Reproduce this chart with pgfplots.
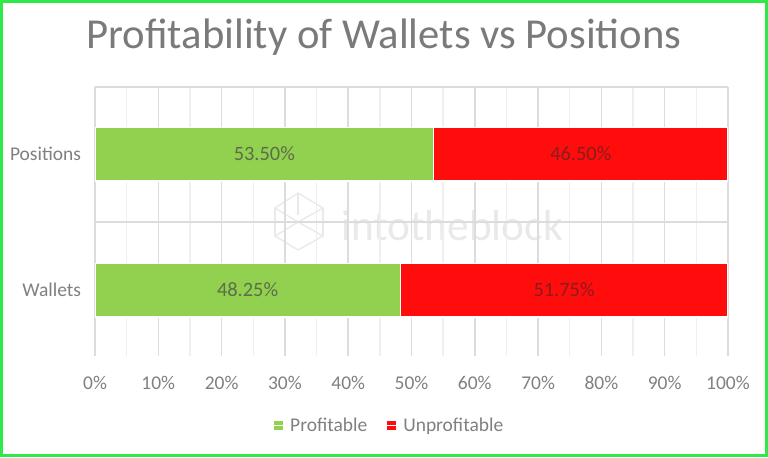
\documentclass[border=0pt]{standalone}
\usepackage{pgfplots}
\pgfplotsset{compat=1.18}
\usepackage{fontspec}
\setmainfont{Carlito}
\definecolor{gborder}{HTML}{2FE84A}
\definecolor{gbar}{HTML}{92D050}
\definecolor{rbar}{HTML}{FF0D0D}
\definecolor{tick}{HTML}{808080}
\definecolor{lab}{HTML}{5C6E48}
\definecolor{rlab}{HTML}{8A1C1C}
\definecolor{gmaj}{HTML}{DCDCDC}
\definecolor{gmin}{HTML}{EFEFEF}
\definecolor{wm}{HTML}{E9E9E9}
\begin{document}
\begin{tikzpicture}[x=0.75pt,y=0.75pt]
\path[fill=white] (0,0) rectangle (768,457);
% watermark (behind the grid)
\node[anchor=center,text=wm,font=\fontsize{32.5pt}{34pt}\selectfont] at (452,231) {intotheblock};
\draw[wm,line width=1pt] (298,264)--(323,249)--(298,235)--(275,249)--cycle;
\draw[wm,line width=1pt] (275,221)--(298,207)--(323,221)--(298,235)--cycle;
\draw[wm,line width=1pt] (275,249)--(275,221) (298,264)--(298,242) (323,249)--(323,221);
\begin{axis}[
  at={(71.25pt,75.75pt)}, anchor=south west,
  scale only axis, width=474.75pt, height=201.75pt,
  xmin=0, xmax=100, ymin=-0.485, ymax=1.493,
  xbar stacked, bar width=40.1pt,
  /pgf/number format/assume math mode=true,
  xtick={0,10,...,100}, minor xtick={5,15,...,95},
  xticklabel={\pgfmathprintnumber{\tick}\%},
  ytick={0,1}, yticklabels={Wallets,Positions},
  extra y ticks={0.502,1.493}, extra y tick labels={},
  extra y tick style={grid=major, major grid style={gmaj,line width=1.1pt}},
  major tick length=0pt, minor tick length=0pt,
  xmajorgrids, xminorgrids,
  major x grid style={gmaj,line width=1.1pt},
  minor x grid style={gmin,line width=1.1pt},
  axis line style={draw=none},
  tick label style={font=\fontsize{14.6pt}{16pt}\selectfont,text=tick},
  xticklabel style={yshift=-11.6pt},
  yticklabel style={xshift=-7pt},
  legend style={draw=none, fill=none,
    legend columns=2, font=\fontsize{14.6pt}{16pt}\selectfont, text=tick,
    /tikz/every even column/.append style={column sep=12pt}},
  legend cell align=left,
  legend image code/.code={\path[#1,draw=none] (0pt,-3.3pt) rectangle (6.9pt,3.5pt);\path (0pt,0pt) -- (9.9pt,0pt);},
  legend style={at={(0.4651,-0.2588)}, anchor=center},
]
\addplot[fill=gbar,draw=white,line width=1.1pt] coordinates {(48.25,0) (53.50,1)};
\addlegendentry{Profitable}
\addplot[fill=rbar,draw=white,line width=1.1pt] coordinates {(51.75,0) (46.50,1)};
\addlegendentry{Unprofitable}
\end{axis}
\begin{axis}[
  at={(71.25pt,75.75pt)}, anchor=south west,
  scale only axis, width=474.75pt, height=201.75pt,
  xmin=0, xmax=100, ymin=-0.485, ymax=1.493,
  axis lines=none, clip=false,
  nodes near coords, point meta=explicit symbolic,
  every node near coord/.style={anchor=center, font=\fontsize{15.3pt}{16pt}\selectfont},
]
\addplot[draw=none, mark=none, nodes near coords style={text=lab}] coordinates {(24.1,0)[48.25\%] (26.75,1)[53.50\%]};
\addplot[draw=none, mark=none, nodes near coords style={text=rlab}] coordinates {(74.1,0)[51.75\%] (76.75,1)[46.50\%]};
\end{axis}
% title
\node[anchor=center,text=black!52,font=\fontsize{32pt}{36pt}\selectfont] at (384,420) {Profitability of Wallets vs Positions};
% frame
\draw[gborder,line width=2.6pt] (1.7,1.7) rectangle (766.3,455.3);
\end{tikzpicture}
\end{document}
